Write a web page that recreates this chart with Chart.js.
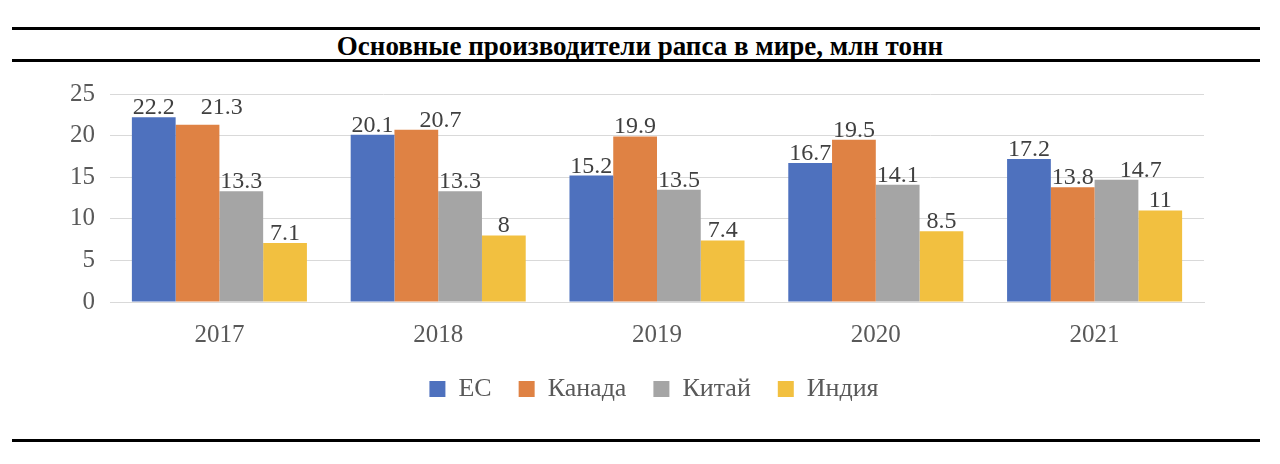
<!DOCTYPE html>
<html><head><meta charset="utf-8">
<script src="https://cdn.jsdelivr.net/npm/chart.js@4/dist/chart.umd.min.js"></script>
<style>
html,body{margin:0;padding:0;background:#fff;width:1280px;height:464px;overflow:hidden;position:relative;font-family:"Liberation Serif",serif;}
.rule{position:absolute;left:12px;right:20px;height:3px;background:#000;}
#title{position:absolute;left:0;right:0;top:30px;text-align:center;font-weight:bold;font-size:27px;color:#000;line-height:32px;}
#wrap{position:absolute;left:0;top:60px;width:1280px;height:370px;}
</style></head>
<body>
<div class="rule" style="top:27px"></div>
<div id="title">Основные производители рапса в мире, млн тонн</div>
<div class="rule" style="top:59px"></div>
<div class="rule" style="top:439px"></div>
<div id="wrap"><canvas id="c"></canvas></div>
<script>
const categories = ["2017","2018","2019","2020","2021"];
const seriesNames = ["ЕС","Канада","Китай","Индия"];
const valuesEU = [22.2,20.1,15.2,16.7,17.2];
const valuesCanada = [21.3,20.7,19.9,19.5,13.8];
const valuesChina = [13.3,13.3,13.5,14.1,14.7];
const valuesIndia = [7.1,8,7.4,8.5,11];
const yTicks = [0,5,10,15,20,25];
const colors = ["#4E71BE","#DF8244","#A5A5A5","#F2C040"];

// value labels above bars; a label that would collide with its left neighbour is nudged right
const dataLabels = {
  id:'dataLabels',
  afterDatasetsDraw(chart){
    const ctx = chart.ctx;
    ctx.save();
    ctx.font = '24px "Liberation Serif"';
    ctx.fillStyle = '#404040';
    ctx.textAlign = 'left';
    ctx.textBaseline = 'alphabetic';
    const textH = 18;
    const nCat = chart.data.labels.length;
    for(let j=0;j<nCat;j++){
      let prev = null;
      chart.data.datasets.forEach((ds,i)=>{
        const bar = chart.getDatasetMeta(i).data[j];
        const txt = String(ds.data[j]);
        const w = ctx.measureText(txt).width;
        let left = bar.x - w/2;
        let base = bar.y - 3;
        if(prev && Math.abs(base - prev.base) < textH && left < prev.right + 8){
          left = prev.right + 26;
          base = Math.min(base, prev.base);
        }
        ctx.fillText(txt, left, base);
        prev = {right:left + w, base:base};
      });
    }
    ctx.restore();
  }
};

// centre the legend under the plot area rather than the whole canvas
const legendCentre = {
  id:'legendCentre',
  afterLayout(chart){
    const lg = chart.legend;
    if(!lg) return;
    const shift = (chart.chartArea.left + chart.chartArea.right)/2 - (lg.left + lg.right)/2 - 3;
    lg.left += shift; lg.right += shift;
  }
};

new Chart(document.getElementById('c'),{
  type:'bar',
  data:{
    labels:categories,
    datasets:[valuesEU,valuesCanada,valuesChina,valuesIndia].map((d,i)=>({
      label:seriesNames[i], data:d, backgroundColor:colors[i], borderWidth:0,
      categoryPercentage:0.8, barPercentage:1.0
    }))
  },
  options:{
    responsive:true, maintainAspectRatio:false, animation:false,
    devicePixelRatio:1,
    layout:{padding:{left:0,right:76,top:34,bottom:18}},
    plugins:{
      legend:{position:'bottom',
        labels:{font:{family:'"Liberation Serif"',size:26},color:'#595959',boxWidth:16,boxHeight:16,padding:27}},
      title:{display:false}, tooltip:{enabled:false}
    },
    scales:{
      x:{grid:{display:false},border:{color:'#d9d9d9'},
        ticks:{font:{family:'"Liberation Serif"',size:25},color:'#595959',padding:10},
        afterFit(s){s.height=47;}},
      y:{min:0,max:25,
        afterBuildTicks(s){s.ticks=yTicks.map(v=>({value:v}));},
        grid:{color:'#d9d9d9',drawTicks:false},border:{display:false},
        ticks:{font:{family:'"Liberation Serif"',size:25},color:'#595959',padding:15},
        afterFit(s){s.width=110;}}
    }
  },
  plugins:[dataLabels, legendCentre]
});
</script>
</body></html>
